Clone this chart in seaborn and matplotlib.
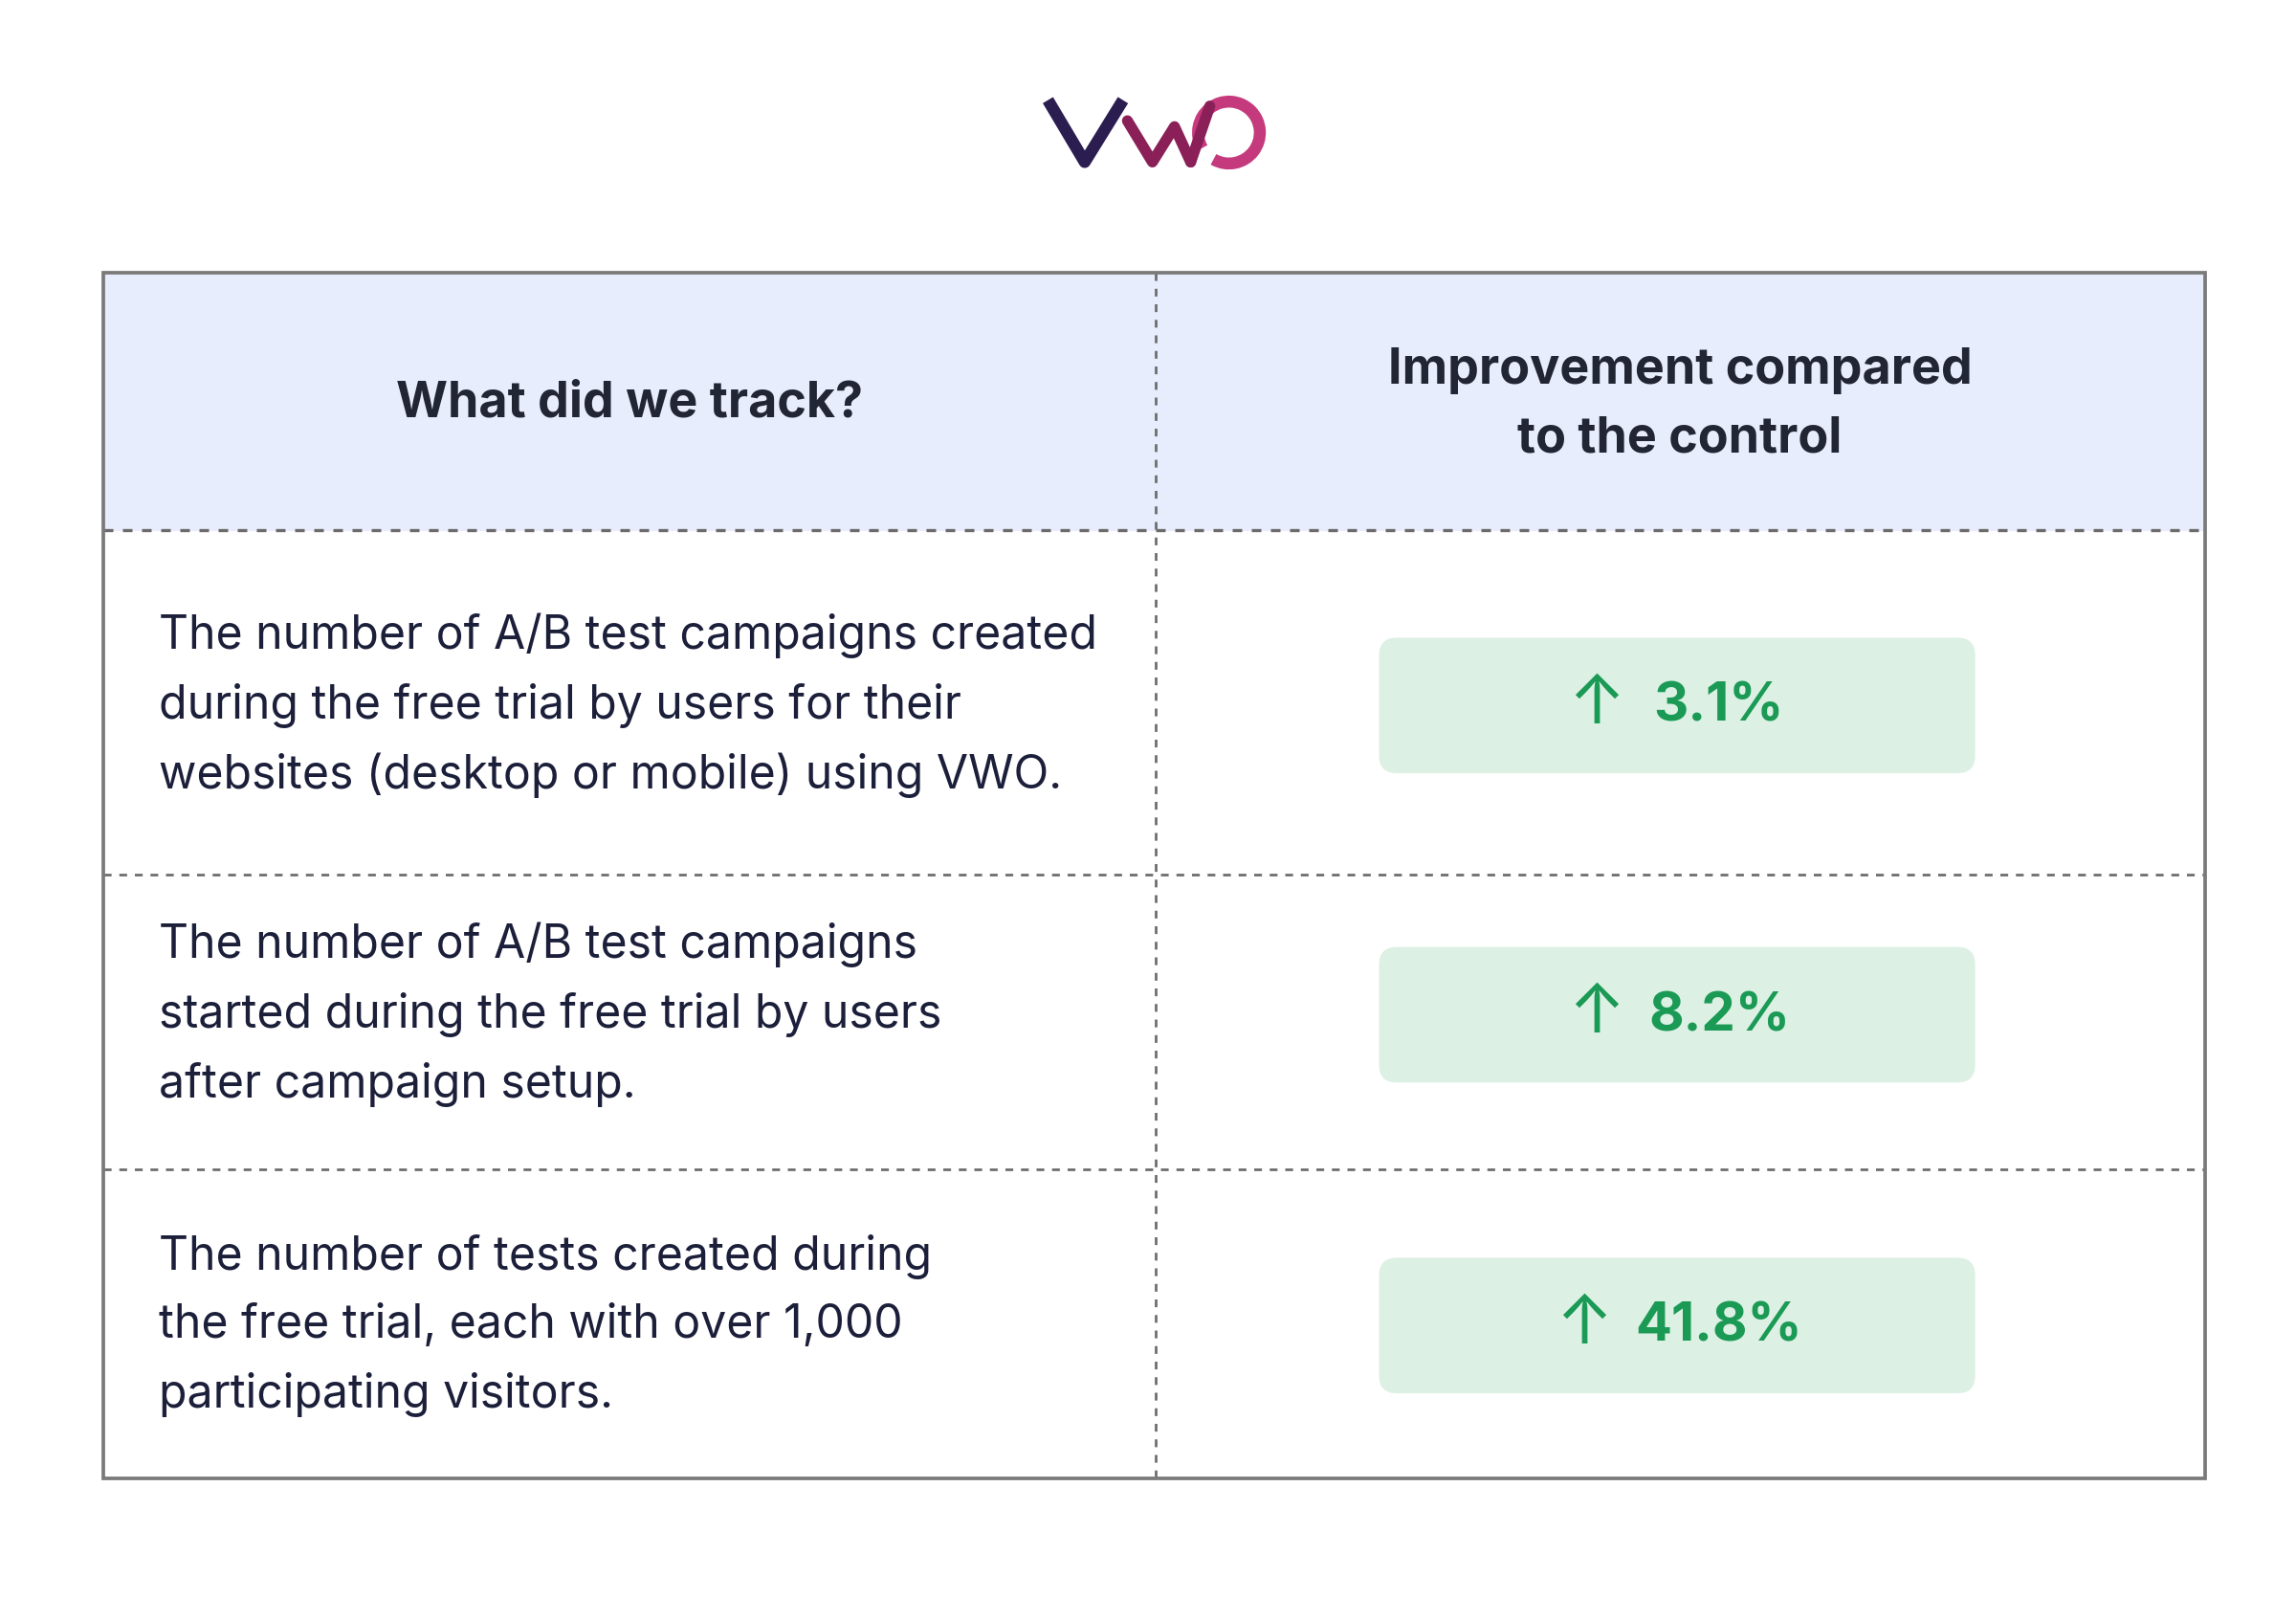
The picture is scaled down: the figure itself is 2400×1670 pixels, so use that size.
import matplotlib.pyplot as plt
import seaborn as sns
from matplotlib.patches import Rectangle, FancyBboxPatch, Arc

sns.set_theme(style="white")
plt.rcParams["font.family"] = "Inter"

headers = ["What did we track?", "Improvement compared\nto the control"]
tracked = [
    "The number of A/B test campaigns created\nduring the free trial by users for their\nwebsites (desktop or mobile) using VWO.",
    "The number of A/B test campaigns\nstarted during the free trial by users\nafter campaign setup.",
    "The number of tests created during\nthe free trial, each with over 1,000\nparticipating visitors.",
]
improvements = [3.1, 8.2, 41.8]

fig = plt.figure(figsize=(16, 16 * 1670 / 2400), dpi=150)
ax = fig.add_axes([0, 0, 1, 1])
ax.set_xlim(0, 1560)
ax.set_ylim(1085, 0)
ax.axis("off")

left, right, top, bottom = 70, 1498, 185, 1004
mid = 785
row_edges = [360, 594, 794, 1004]
centers = [479, 689, 900]
grey = "#6b6b6b"
ink = "#1c1f3a"

ax.add_patch(Rectangle((left, top), right - left, row_edges[0] - top, color="#E8EDFD", zorder=0))
ax.add_patch(Rectangle((left, top), right - left, bottom - top, fill=False, ec="#7a7a7a", lw=1.8, zorder=3))
ax.plot([mid, mid], [top, bottom], color=grey, lw=1.3, ls=(0, (3, 3)))
for y in row_edges[:-1]:
    ax.plot([left, right], [y, y], color=grey, lw=1.6 if y == 360 else 1.3, ls=(0, (3, 3)))

ax.text((left + mid) / 2, 274, headers[0], ha="center", va="center",
        fontsize=25, fontweight="bold", color="#222533")
ax.text((mid + right) / 2, 275, headers[1], ha="center", va="center",
        fontsize=25, fontweight="bold", color="#222533", linespacing=1.6)

for txt, val, yc in zip(tracked, improvements, centers):
    ax.text(108, yc, txt, ha="left", va="center", fontsize=23.1, color=ink, linespacing=1.7)
    ax.add_patch(FancyBboxPatch((937, yc - 46), 405, 92, boxstyle="round,pad=0,rounding_size=12",
                                fc="#DCF0E4", ec="none"))
    label = f"{val}%"
    ax.text(1140 + 28, yc + 1, label, ha="center", va="center", fontsize=27,
            fontweight="bold", color="#1A9A55")
    half = len(label) * 8.5
    ax.text(1140 + 28 - half - 30, yc, "↑", ha="right", va="center", fontsize=34,
            color="#1A9A55")

# logo
ax.plot([712, 737, 763], [68, 110, 68], color="#2B1D50", lw=6, solid_capstyle="butt")
ax.plot([766, 783, 798, 809], [82, 110, 86, 110], color="#8A2057", lw=5.5)
ax.plot([809, 822], [110, 72], color="#8A2057", lw=5.5)
ax.add_patch(Arc((835, 90), 42, 42, theta1=-210, theta2=120, color="#C53A7D", lw=6))

fig.savefig("out.png", dpi=150)
